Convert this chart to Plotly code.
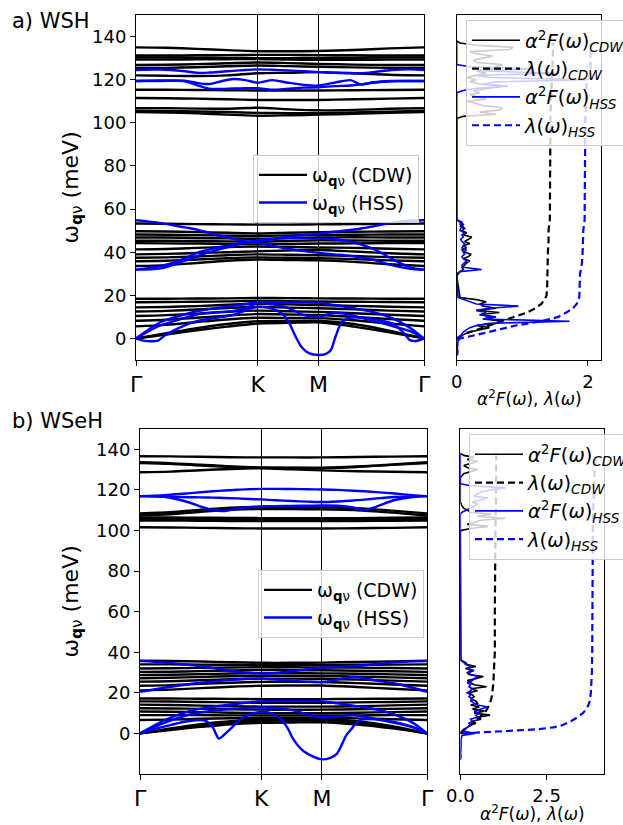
import plotly.graph_objects as go

W, H = 623, 825

# ---------------- k-path ----------------
K_NODES = [0, 0.25, 0.5, 0.75, 1.0, 1.25, 1.5, 1.79, 2.08, 2.366]
K_FINE = [0, 0.2, 0.4, 0.5, 0.6, 0.7, 0.8, 0.9, 1.0, 1.12, 1.25, 1.38, 1.5,
          1.63, 1.76, 1.85, 1.95, 2.1, 2.25, 2.366]
TICK_POS = [0, 1.0, 1.5, 2.366]
TICK_TXT = ["Γ", "K", "M", "Γ"]

# ---------------- panel a) WSH : CDW bands (black) ----------------
wsh_cdw_bands = [
    [135, 134.8, 134.3, 133.7, 133.2, 133.2, 133.3, 133.8, 134.5, 135],
    [131.2, 131.2, 131.3, 131.4, 131.5, 131.5, 131.4, 131.3, 131.2, 131.2],
    [130.3, 130.3, 130.2, 130.1, 130, 130, 130.1, 130.2, 130.3, 130.3],
    [129.3, 129.3, 129.4, 129.5, 129.6, 129.3, 129.2, 129.2, 129.3, 129.3],
    [126.8, 126.9, 127.2, 127.6, 128, 127.7, 127.3, 127.0, 126.8, 126.8],
    [125.5, 125.5, 125.8, 126.2, 126.6, 126.3, 126, 125.7, 125.5, 125.5],
    [122, 121.8, 121.7, 122, 123, 123.2, 123.5, 123, 122.3, 122],
    [115.3, 115.3, 115.2, 115.1, 115, 115, 115, 115.1, 115.2, 115.3],
    [111.5, 111.4, 111.2, 110.9, 110.6, 110.6, 110.6, 110.9, 111.2, 111.5],
    [106.8, 106.8, 106.6, 106.5, 107, 106.3, 105.8, 106, 106.5, 106.8],
    [105.6, 105.5, 105.3, 105, 104.6, 104.5, 104.5, 104.8, 105.2, 105.6],
    [105, 104.8, 104.4, 103.8, 103.3, 103.5, 103.8, 104.2, 104.6, 105],
    [53.3, 53.2, 53, 52.9, 52.8, 52.8, 52.9, 53, 53.2, 53.3],
    [49.7, 49.6, 49.3, 49, 48.7, 49, 49.3, 49.5, 49.6, 49.7],
    [48.2, 48.1, 47.9, 47.7, 47.5, 47.8, 48, 48.1, 48.2, 48.2],
    [46.8, 46.8, 46.6, 46.4, 46.2, 46.5, 46.8, 46.9, 46.8, 46.8],
    [45.3, 45.3, 45.2, 45, 44.8, 45.2, 45.5, 45.4, 45.3, 45.3],
    [44.2, 44.1, 44, 43.8, 43.6, 43.8, 44, 44.1, 44.2, 44.2],
    [41.3, 41.5, 42, 42.4, 42.6, 42.4, 42.2, 42, 41.6, 41.3],
    [39, 39.2, 39.6, 40, 40.4, 40.8, 41, 40.3, 39.5, 39],
    [37.4, 37.6, 38, 38.6, 39, 38.8, 38.6, 38.2, 37.7, 37.4],
    [35.8, 36, 36.6, 37.2, 37.6, 37.4, 37.2, 36.8, 36.2, 35.8],
    [33.6, 34, 35, 36, 36.6, 36.4, 36.2, 35.5, 34.4, 33.6],
    [18.4, 18.4, 18.5, 18.6, 18.8, 18.7, 18.6, 18.5, 18.4, 18.4],
    [16.8, 16.9, 17.0, 17.2, 17.5, 17.3, 17.1, 17.0, 16.9, 16.8],
    [14.4, 14.6, 15.0, 15.6, 16.1, 15.8, 15.5, 15.1, 14.7, 14.4],
    [12.5, 12.8, 13.4, 14.1, 14.6, 14.3, 14.0, 13.5, 12.9, 12.5],
    [10.4, 10.8, 11.5, 12.3, 12.9, 12.6, 12.3, 11.7, 11.0, 10.4],
    [8.2, 8.7, 9.6, 10.6, 11.3, 11.1, 10.9, 10.0, 9.0, 8.2],
    [5.6, 6.3, 7.6, 8.8, 9.6, 9.5, 9.4, 8.4, 6.9, 5.6],
    [0, 2.4, 4.8, 6.7, 8.0, 8.1, 8.2, 6.7, 3.6, 0],
    [0, 1.8, 3.8, 5.5, 6.9, 7.2, 7.5, 5.5, 2.8, 0],
]

# ---------------- panel a) WSH : HSS bands (blue) on K_FINE ----------------
wsh_hss_bands = [
    [124.5, 124.7, 123.9, 123.2, 123.3, 123.7, 124.1, 124.5, 124.8, 124.6, 124.3, 123.9, 123.5, 123.2, 123.0, 123.0, 123.5, 124.5, 124.8, 124.5],
    [119.4, 119.4, 119.3, 117.5, 115.8, 115.7, 115.9, 116.0, 116.0, 115.3, 115.8, 116.3, 116.5, 117.0, 117.3, 117.8, 118.6, 119.3, 119.4, 119.4],
    [119.4, 119.6, 119.5, 118.5, 118.0, 119.3, 120.3, 119.8, 118.6, 119.8, 118.6, 117.6, 117.3, 118.6, 119.8, 117.8, 118.8, 119.4, 119.4, 119.4],
    [54.8, 53.5, 51.5, 50.5, 49, 47.5, 46.3, 45, 44.3, 43, 41.5, 40.5, 39.7, 39, 38.3, 37.5, 36.5, 34, 32.3, 31.9],
    [31.9, 33.5, 37, 39.7, 41.2, 42.5, 43.5, 44.3, 45, 46, 47.2, 48, 48.6, 49.5, 50.3, 51, 52, 53.6, 54.6, 54.8],
    [31.9, 32.5, 36, 38, 40, 41.5, 43, 44.5, 45.5, 46.2, 46.5, 46.4, 46.2, 46.0, 45, 43.5, 41.5, 37, 33, 31.9],
    [0, 6, 9.5, 11.1, 11.8, 12.3, 12.7, 14, 16.5, 15.8, 14.2, 10.8, 10, 11.9, 11, 9.6, 8.3, 5.8, 3.4, 0],
    [0, 7.5, 11.2, 12.6, 13.6, 14.4, 15.1, 15.9, 16.8, 16.8, 16.7, 16.6, 16.5, 15.5, 14.3, 13.4, 12.2, 9.5, 5, 0],
]
wsh_soft_k = [0, 0.06, 0.12, 0.18, 0.24, 0.35, 0.5, 0.65, 0.8, 1.0, 1.12, 1.2, 1.26, 1.31, 1.36,
              1.42, 1.5, 1.56, 1.6, 1.64, 1.69, 1.76, 1.87, 2.0, 2.12, 2.2, 2.25, 2.3, 2.366]
wsh_soft_w = [0, -1.0, -1.3, -1.0, 1.5, 4.8, 8.0, 9.5, 11.0, 14.7, 13.8, 11.5, 7.0, 1.0, -4.0,
              -6.8, -7.7, -7.2, -5.5, 1.0, 7.5, 9.6, 9.6, 8.5, 6.5, 2.5, -0.8, -1.2, 0]

# ---------------- panel b) WSeH : CDW bands (black) ----------------
wseh_cdw_bands = [
    [136.6, 136.5, 136.3, 136.1, 136, 136, 136, 136.2, 136.4, 136.6],
    [133.6, 133.2, 132.4, 131.6, 131, 130.8, 130.7, 131.3, 132.5, 133.6],
    [133.2, 132.8, 132.0, 131.3, 130.9, 130.9, 130.9, 131.5, 132.3, 133.2],
    [128.7, 129.0, 129.7, 130.3, 130.6, 130.1, 129.6, 129.2, 128.9, 128.7],
    [108.4, 109, 110.2, 111.2, 111.6, 111.5, 111.4, 111, 109.8, 108.4],
    [107.4, 108, 109.2, 110.2, 110.6, 110.5, 110.4, 110, 108.8, 107.4],
    [106.4, 106.4, 106.3, 106.2, 106.1, 106, 106, 106.1, 106.3, 106.4],
    [105.6, 105.6, 105.5, 105.4, 105.3, 105.2, 105.2, 105.3, 105.5, 105.6],
    [104.9, 104.9, 104.8, 104.7, 104.6, 104.6, 104.6, 104.7, 104.8, 104.9],
    [101.6, 101.5, 101.3, 101.1, 101, 101, 101, 101.1, 101.3, 101.6],
    [35.8, 35.7, 35.4, 35.1, 34.8, 34.8, 34.9, 35.2, 35.5, 35.8],
    [34.0, 34.0, 33.9, 33.8, 33.7, 33.7, 33.7, 33.8, 33.9, 34.0],
    [32.0, 32.1, 32.3, 32.5, 32.6, 32.6, 32.5, 32.4, 32.2, 32.0],
    [30.3, 30.4, 30.7, 31.0, 31.2, 31.2, 31.1, 30.9, 30.6, 30.3],
    [28.8, 28.9, 29.2, 29.5, 29.7, 29.7, 29.6, 29.4, 29.1, 28.8],
    [27.2, 27.4, 27.8, 28.2, 28.4, 28.4, 28.3, 28.0, 27.6, 27.2],
    [25.5, 25.7, 26.2, 26.7, 27.0, 27.0, 26.9, 26.5, 26.0, 25.5],
    [23.5, 23.8, 24.4, 25.0, 25.4, 25.4, 25.3, 24.8, 24.1, 23.5],
    [21.2, 21.6, 22.3, 23.0, 23.5, 23.6, 23.6, 22.9, 22.0, 21.2],
    [17.2, 17.2, 17.1, 17.0, 16.9, 16.9, 16.9, 17.0, 17.1, 17.2],
    [15.8, 15.7, 15.5, 15.3, 15.1, 15.1, 15.1, 15.3, 15.5, 15.8],
    [14.2, 14.0, 13.7, 13.4, 13.2, 13.2, 13.2, 13.4, 13.8, 14.2],
    [12.4, 12.3, 12.1, 11.9, 11.7, 11.7, 11.7, 11.9, 12.1, 12.4],
    [10.8, 10.7, 10.5, 10.2, 10.0, 10.0, 10.0, 10.2, 10.5, 10.8],
    [9.0, 9.0, 9.0, 8.9, 8.9, 8.9, 8.9, 8.9, 9.0, 9.0],
    [6.6, 6.8, 7.2, 7.5, 7.7, 7.7, 7.7, 7.4, 7.0, 6.6],
    [0, 2.0, 3.8, 5.3, 6.2, 6.3, 6.4, 5.2, 3.0, 0],
    [0, 1.7, 3.2, 4.5, 5.2, 5.4, 5.5, 4.4, 2.5, 0],
    [0, 2.5, 4.6, 6.0, 6.8, 6.9, 7.0, 6.0, 3.6, 0],
]

# ---------------- panel b) WSeH : HSS bands (blue) on K_FINE ----------------
wseh_hss_bands = [
    [116.9, 117.4, 118.3, 118.8, 119.3, 119.7, 120.1, 120.3, 120.5, 120.5, 120.4, 120.3, 120.2, 120, 119.6, 119.3, 118.9, 118.2, 117.4, 116.9],
    [116.9, 116.6, 116.4, 116.3, 116.2, 116, 115.8, 115.5, 115.3, 114.9, 114.5, 114.2, 114, 114.3, 114.8, 115.2, 115.8, 116.5, 116.8, 116.9],
    [116.9, 116.6, 113.9, 111.8, 110, 109.6, 110.8, 111.5, 111.8, 112, 112.1, 112.2, 112.3, 112.2, 111.3, 110.0, 111.8, 115.0, 116.5, 116.9],
    [35.6, 35, 33.8, 33.1, 32.3, 31.3, 30.4, 29.9, 29.5, 29.8, 30.6, 31.6, 32.4, 32.8, 33.2, 33.6, 34.2, 35, 35.5, 35.6],
    [20.5, 22.5, 24.2, 24.9, 25.6, 26.2, 26.6, 26.9, 27.0, 26.6, 26, 25.5, 25.3, 26.5, 27.8, 27.2, 26, 24.6, 22.5, 20.5],
    [0, 6.5, 10.9, 12.2, 13.1, 13.9, 14.6, 15.3, 15.9, 15.9, 15.9, 15.9, 15.9, 14.8, 13.6, 12.9, 11.8, 9.3, 5.2, 0],
    [0, 5.2, 9.2, 10.3, 11.2, 11.8, 12.2, 12.6, 12.8, 12.5, 11.5, 9.5, 7.9, 8.4, 9.0, 8.3, 7.0, 5.2, 3.0, 0],
]
wseh_soft_k = [0, 0.12, 0.25, 0.36, 0.46, 0.54, 0.6, 0.65, 0.7, 0.75, 0.8, 0.86, 0.93, 1.0, 1.08,
               1.145, 1.19, 1.226, 1.26, 1.3, 1.35, 1.42, 1.5, 1.57, 1.62, 1.66, 1.7, 1.74, 1.81,
               1.95, 2.1, 2.26, 2.366]
wseh_soft_w = [0, 2.2, 4.1, 5.6, 6.5, 6.3, 3.0, -2.5, -0.3, 2.5, 5.5, 8.2, 9.8, 10.6, 10.0,
               8.0, 5.0, 1.6, -2.5, -5.8, -8.8, -11.2, -12.8, -12.0, -10.2, -6.0, -1.0, 2.0, 6.5,
               6.9, 5.5, 3.0, 0]

# ---------------- Eliashberg a2F (1 meV grid, region start + values) ----------------
wsh_a2f_cdw = [  # (start meV, values)
    (0, [0, 0.05, 0.12, 0.2, 0.35, 0.5, 0.3, 0.6, 0.7, 0.4, 0.55, 0.35, 0.65, 0.3, 0.6, 0.4, 0.35, 0.45, 0.3, 0.05]),
    (30, [0.02, 0.05, 0.1, 0.08, 0.12, 0.15, 0.2, 0.1, 0.18, 0.22, 0.12, 0.08, 0.15, 0.1, 0.2, 0.12, 0.18, 0.23, 0.1, 0.15, 0.08, 0.12, 0.05, 0.1, 0.05, 0.0]),
    (102, [0, 0.1, 0.6, 0.35, 0.65, 0.7, 0.4, 0.3, 0.15, 0.45, 0.3, 0.2, 0.35, 0.25, 0.5, 0.7, 0.35, 0.2, 0.3, 0.15, 0.3, 0.45, 0.3, 0.55, 0.6, 0.7, 0.3, 0.25, 0.4, 0.55, 0.3, 0.2, 0.8, 0.86, 0.3, 0.05]),
]
wsh_a2f_hss = [
    (-8, [0.01, 0.02, 0.02, 0.01, 0.01, 0.01, 0.02, 0.02, 0.03, 0.05, 0.08, 0.1, 0.15, 0.2, 0.3, 0.5, 1.72, 0.4, 0.6, 0.35, 0.45, 0.3, 0.5, 0.94, 0.3, 0.2, 0.1, 0.02]),
    (31, [0.05, 0.38, 0.1, 0.08, 0.12, 0.15, 0.1, 0.08, 0.12, 0.1, 0.15, 0.08, 0.1, 0.12, 0.08, 0.06, 0.1, 0.08, 0.12, 0.05, 0.06, 0.1, 0.05, 0.08, 0.0]),
    (114, [0, 0.1, 0.3, 0.78, 0.4, 0.6, 2.0, 0.5, 0.3, 1.57, 0.4, 1.1, 0.2, 0]),
]
wseh_a2f_cdw = [
    (0, [0, 0.05, 0.1, 0.2, 0.3, 0.45, 0.35, 0.6, 0.5, 0.86, 0.4, 0.7, 0.35, 0.55, 0.3, 0.5, 0.45, 0.3, 0.4, 0.35, 0.25, 0.5, 0.3, 0.76, 0.4, 0.3, 0.2, 0.45, 0.67, 0.25, 0.2, 0.35, 0.15, 0.45, 0.2, 0.15, 0.02]),
    (100, [0.02, 0.3, 0.8, 0.2, 0.4, 0.6, 1.3, 0.5, 0.9, 0.3, 0.2, 0.1, 0.05, 0.02, 0, 0, 0, 0, 0, 0, 0, 0, 0, 0, 0, 0, 0, 0.05, 0.1, 0.3, 0.5, 0.2, 0.1, 0.3, 0.5, 0.2, 0.4, 0.1, 0]),
]
wseh_a2f_hss = [
    (-13, [0.01, 0.02, 0.02, 0.01, 0.02, 0.01, 0.02, 0.02, 0.01, 0.02, 0.02, 0.03, 0.05,
           0.42, 0.1, 0.15, 0.2, 0.3, 0.25, 0.35, 0.3, 0.5, 0.45, 0.55, 0.4, 0.6, 0.8, 0.5, 0.4, 0.3, 0.35, 0.25, 0.3, 0.2, 0.3, 0.35, 0.25, 0.3, 0.2, 0.35, 0.4, 0.52, 0.3, 0.25, 0.4, 0.2, 0.3, 0.15, 0.1, 0.0]),
    (108, [0, 0.05, 0.2, 0.3, 0.4, 0.5, 0.35, 0.6, 0.8, 0.4, 0.5, 0.6, 0.9, 1.3, 0.3, 0]),
]

# ---------------- cumulative lambda(omega) ----------------
wsh_lam_cdw_w = [0, 2, 4, 6, 8, 10, 12, 14, 16, 18, 19, 20, 25, 30, 35, 40, 45, 50, 55, 60, 80, 100, 105, 110, 115, 120, 125, 130, 135, 137]
wsh_lam_cdw = [0, 0.1, 0.3, 0.5, 0.7, 0.88, 1.07, 1.2, 1.29, 1.34, 1.36, 1.37, 1.38, 1.38, 1.39, 1.39, 1.40, 1.40, 1.42, 1.42, 1.42, 1.42, 1.43, 1.44, 1.44, 1.45, 1.46, 1.46, 1.47, 1.47]
wsh_lam_hss_w = [-1, 0, 2, 4, 6, 8, 10, 12, 14, 16, 17, 18, 20, 25, 30, 33, 35, 40, 45, 50, 55, 60, 80, 100, 110, 115, 118, 120, 122, 125, 130, 137]
wsh_lam_hss = [0.02, 0.05, 0.35, 0.65, 0.9, 1.3, 1.55, 1.67, 1.77, 1.83, 1.85, 1.86, 1.87, 1.87, 1.88, 1.9, 1.91, 1.92, 1.92, 1.93, 1.95, 1.95, 1.96, 1.96, 1.97, 1.97, 1.98, 2.01, 2.03, 2.04, 2.04, 2.04]
wseh_lam_cdw_w = [0, 2, 4, 6, 8, 10, 12, 14, 16, 18, 20, 25, 30, 35, 40, 60, 80, 100, 105, 110, 120, 130, 137]
wseh_lam_cdw = [0, 0.12, 0.28, 0.43, 0.58, 0.7, 0.78, 0.84, 0.88, 0.91, 0.93, 0.96, 0.97, 0.99, 1.0, 1.0, 1.0, 1.0, 1.02, 1.03, 1.03, 1.04, 1.04]
wseh_lam_hss_w = [0, 0.5, 1, 2, 3, 4, 6, 8, 10, 12, 14, 16, 20, 25, 30, 40, 60, 80, 100, 105, 110, 115, 120, 125, 130, 137]
wseh_lam_hss = [0.05, 0.6, 1.3, 2.2, 2.7, 2.95, 3.2, 3.4, 3.55, 3.65, 3.71, 3.75, 3.78, 3.8, 3.81, 3.82, 3.82, 3.83, 3.83, 3.84, 3.85, 3.86, 3.88, 3.88, 3.89, 3.89]


def regions_to_xy(regions, top=138):
    w, f = [], []
    for start, vals in regions:
        if w:
            w.append(start - 1)
            f.append(0)
        w.extend(start + i for i in range(len(vals)))
        f.extend(vals)
    w.append(top)
    f.append(0)
    return w, f


FONT = "DejaVu Sans"
BLUE = "#0000ff"
fig = go.Figure()


def add_bands(k, bands, color, xa, ya, leg, name, show):
    for i, b in enumerate(bands):
        fig.add_trace(go.Scatter(
            x=k, y=b, mode="lines", xaxis=xa, yaxis=ya, legend=leg,
            line=dict(color=color, width=2.4, shape="spline", smoothing=0.8),
            name=name, showlegend=(show and i == 0), hoverinfo="skip"))


NAME_CDW = "ω<sub><b>q</b>ν</sub> (CDW)"
NAME_HSS = "ω<sub><b>q</b>ν</sub> (HSS)"

add_bands(K_NODES, wsh_cdw_bands, "black", "x", "y", "legend", NAME_CDW, True)
add_bands(K_FINE, wsh_hss_bands, BLUE, "x", "y", "legend", NAME_HSS, True)
add_bands(wsh_soft_k, [wsh_soft_w], BLUE, "x", "y", "legend", NAME_HSS, False)
add_bands(K_NODES, wseh_cdw_bands, "black", "x3", "y3", "legend2", NAME_CDW, True)
add_bands(K_FINE, wseh_hss_bands, BLUE, "x3", "y3", "legend2", NAME_HSS, True)
add_bands(wseh_soft_k, [wseh_soft_w], BLUE, "x3", "y3", "legend2", NAME_HSS, False)

A2F_CDW = "<i>α</i><sup>2</sup><i>F</i>(<i>ω</i>)<sub><i>CDW</i></sub>"
LAM_CDW = "<i>λ</i>(<i>ω</i>)<sub><i>CDW</i></sub>"
A2F_HSS = "<i>α</i><sup>2</sup><i>F</i>(<i>ω</i>)<sub><i>HSS</i></sub>"
LAM_HSS = "<i>λ</i>(<i>ω</i>)<sub><i>HSS</i></sub>"


def add_eliash(a2f_cdw, lam_cdw_w, lam_cdw, a2f_hss, lam_hss_w, lam_hss, xa, ya, leg):
    w, f = regions_to_xy(a2f_cdw)
    fig.add_trace(go.Scatter(x=f, y=w, mode="lines", xaxis=xa, yaxis=ya, legend=leg,
                             line=dict(color="black", width=1.6), name=A2F_CDW, hoverinfo="skip"))
    fig.add_trace(go.Scatter(x=lam_cdw, y=lam_cdw_w, mode="lines", xaxis=xa, yaxis=ya, legend=leg,
                             line=dict(color="black", width=2.2, dash="7px,4px"), name=LAM_CDW, hoverinfo="skip"))
    w, f = regions_to_xy(a2f_hss)
    fig.add_trace(go.Scatter(x=f, y=w, mode="lines", xaxis=xa, yaxis=ya, legend=leg,
                             line=dict(color=BLUE, width=1.6), name=A2F_HSS, hoverinfo="skip"))
    fig.add_trace(go.Scatter(x=lam_hss, y=lam_hss_w, mode="lines", xaxis=xa, yaxis=ya, legend=leg,
                             line=dict(color=BLUE, width=2.2, dash="7px,4px"), name=LAM_HSS, hoverinfo="skip"))


add_eliash(wsh_a2f_cdw, wsh_lam_cdw_w, wsh_lam_cdw, wsh_a2f_hss, wsh_lam_hss_w, wsh_lam_hss, "x2", "y2", "legend3")
add_eliash(wseh_a2f_cdw, wseh_lam_cdw_w, wseh_lam_cdw, wseh_a2f_hss, wseh_lam_hss_w, wseh_lam_hss, "x4", "y4", "legend4")


def fx(p):
    return p / W


def fy(p):
    return 1 - p / H


common = dict(showline=True, linecolor="black", linewidth=1, mirror=True, zeroline=False,
              ticks="outside", ticklen=5, tickcolor="black", tickwidth=1)
band_x = dict(common, range=[0, 2.366], tickmode="array", tickvals=TICK_POS, ticktext=TICK_TXT,
              showgrid=True, gridcolor="black", gridwidth=1, tickfont=dict(size=22, color="black", family=FONT))
band_y = dict(common, tickmode="array", tickvals=[0, 20, 40, 60, 80, 100, 120, 140], showgrid=False,
              tickfont=dict(size=18, color="black", family=FONT))
el_y = dict(showline=True, linecolor="black", linewidth=1, mirror=True, zeroline=False,
            showgrid=False, showticklabels=False, ticks="")

legend_style = dict(bgcolor="rgba(255,255,255,0.8)", bordercolor="#cccccc", borderwidth=1,
                    xanchor="left", yanchor="top", itemwidth=48,
                    font=dict(size=19, family=FONT, color="black"))

fig.update_layout(
    width=W, height=H, margin=dict(l=0, r=0, t=0, b=0, autoexpand=False),
    paper_bgcolor="white", plot_bgcolor="white",
    font=dict(family=FONT, color="black"),
    xaxis=dict(band_x, domain=[fx(136), fx(424)], anchor="y"),
    yaxis=dict(band_y, domain=[fy(360), fy(15)], range=[-10, 150], anchor="x"),
    xaxis2=dict(common, domain=[fx(456.7), fx(601)], range=[0, 2.2], tickvals=[0, 2], ticktext=["0", "2"],
                showgrid=False, anchor="y2", tickfont=dict(size=18, color="black", family=FONT)),
    yaxis2=dict(el_y, domain=[fy(360), fy(15)], range=[-10, 150], anchor="x2"),
    xaxis3=dict(band_x, domain=[fx(140), fx(427)], anchor="y3"),
    yaxis3=dict(band_y, domain=[fy(774), fy(429)], range=[-20, 150], anchor="x3"),
    xaxis4=dict(common, domain=[fx(460.3), fx(604.3)], range=[0, 4.17], tickvals=[0, 2.5], ticktext=["0.0", "2.5"],
                showgrid=False, anchor="y4", tickfont=dict(size=18, color="black", family=FONT)),
    yaxis4=dict(el_y, domain=[fy(774), fy(429)], range=[-20, 150], anchor="x4"),
    legend=dict(legend_style, x=fx(253), y=fy(155)),
    legend2=dict(legend_style, x=fx(258), y=fy(570)),
    legend3=dict(legend_style, x=fx(466), y=fy(20), font=dict(size=19.5, family=FONT, color="black")),
    legend4=dict(legend_style, x=fx(469), y=fy(434), font=dict(size=19.5, family=FONT, color="black")),
)

ann = [
    dict(text="a) WSH", x=fx(10), y=fy(21), xanchor="left", yanchor="middle", font=dict(size=21)),
    dict(text="b) WSeH", x=fx(10), y=fy(421), xanchor="left", yanchor="middle", font=dict(size=21)),
    dict(text="ω<sub><b>q</b>ν</sub> (meV)", x=fx(72), y=fy(187.5), textangle=-90,
         xanchor="center", yanchor="middle", font=dict(size=22)),
    dict(text="ω<sub><b>q</b>ν</sub> (meV)", x=fx(72), y=fy(601.5), textangle=-90,
         xanchor="center", yanchor="middle", font=dict(size=22)),
    dict(text="<i>α</i><sup>2</sup><i>F</i>(<i>ω</i>), <i>λ</i>(<i>ω</i>)", x=fx(529), y=fy(398),
         xanchor="center", yanchor="middle", font=dict(size=17)),
    dict(text="<i>α</i><sup>2</sup><i>F</i>(<i>ω</i>), <i>λ</i>(<i>ω</i>)", x=fx(532), y=fy(813),
         xanchor="center", yanchor="middle", font=dict(size=17)),
]
for a in ann:
    a.update(xref="paper", yref="paper", showarrow=False)
    a["font"] = dict(a["font"], family=FONT, color="black")
fig.update_layout(annotations=ann)

fig.write_html("out.html", config={"displayModeBar": False},
               post_script="document.body.style.margin='0';document.body.style.overflow='hidden';")
